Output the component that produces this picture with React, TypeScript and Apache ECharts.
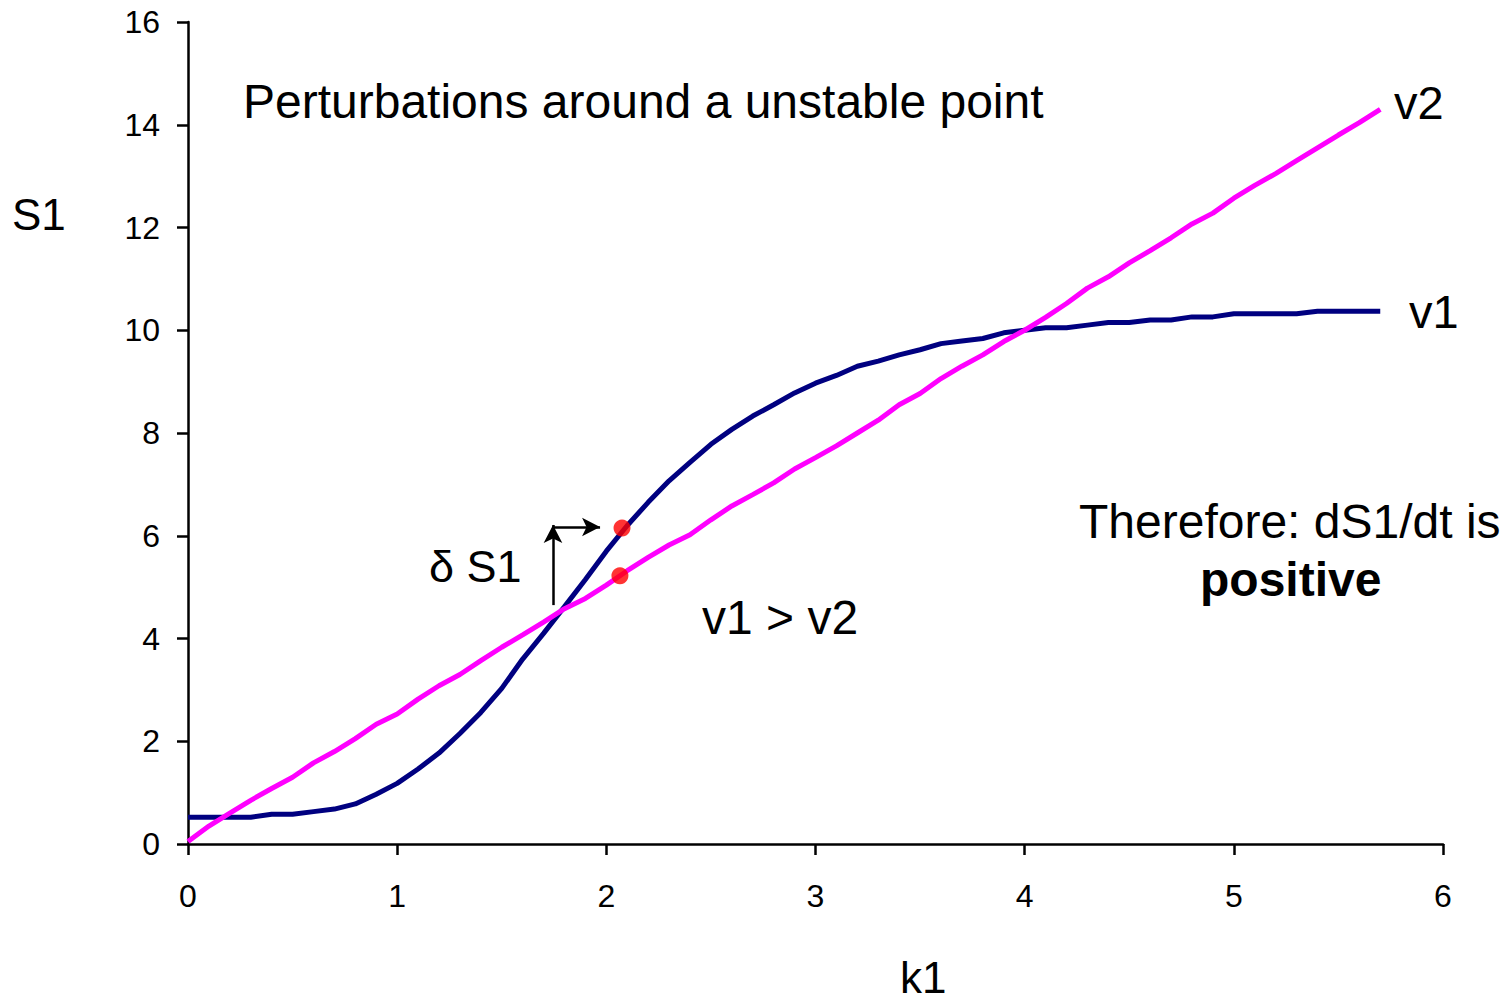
import React, { useEffect, useRef } from "react";
import * as echarts from "echarts";

const kValues = [
  0, 0.1, 0.2, 0.3, 0.4, 0.5, 0.6, 0.7, 0.8, 0.9, 1.0, 1.1, 1.2, 1.3, 1.4, 1.5, 1.6, 1.7, 1.8, 1.9,
  2.0, 2.1, 2.2, 2.3, 2.4, 2.5, 2.6, 2.7, 2.8, 2.9, 3.0, 3.1, 3.2, 3.3, 3.4, 3.5, 3.6, 3.7, 3.8, 3.9,
  4.0, 4.1, 4.2, 4.3, 4.4, 4.5, 4.6, 4.7, 4.8, 4.9, 5.0, 5.1, 5.2, 5.3, 5.4, 5.5, 5.6, 5.7,
];

const v1Values = [
  0.52, 0.52, 0.52, 0.52, 0.58, 0.58, 0.63, 0.68, 0.78, 0.97, 1.18, 1.46, 1.77, 2.15, 2.56, 3.03, 3.6, 4.1, 4.62, 5.15,
  5.7, 6.2, 6.65, 7.07, 7.43, 7.78, 8.07, 8.33, 8.55, 8.78, 8.97, 9.12, 9.3, 9.4, 9.52, 9.62, 9.74, 9.79, 9.84, 9.95,
  10.0, 10.05, 10.05, 10.1, 10.15, 10.15, 10.2, 10.2, 10.26, 10.26, 10.32, 10.32, 10.32, 10.32, 10.37, 10.37, 10.37, 10.37,
];

const v2Values = [
  0.05, 0.35, 0.6, 0.85, 1.08, 1.3, 1.58, 1.8, 2.05, 2.33, 2.53, 2.82, 3.08, 3.3, 3.57, 3.83, 4.07, 4.32, 4.58, 4.78,
  5.04, 5.32, 5.58, 5.82, 6.02, 6.31, 6.58, 6.8, 7.03, 7.3, 7.52, 7.75, 8.0, 8.25, 8.55, 8.77, 9.06, 9.3, 9.52, 9.78,
  10.0, 10.25, 10.52, 10.82, 11.04, 11.31, 11.55, 11.8, 12.07, 12.28, 12.57, 12.82, 13.05, 13.3, 13.55, 13.8, 14.04, 14.3,
];

const perturbedV1 = [[2.075, 6.15]];
const perturbedV2 = [[2.065, 5.22]];

const arrowUp = [[1.745, 4.65], [1.745, 6.21]];
const arrowRight = [[1.745, 6.17], [1.97, 6.17]];

const xTicks = { min: 0, max: 6, interval: 1 };
const yTicks = { min: 0, max: 16, interval: 2 };

const FONT = '"Liberation Sans", Arial, sans-serif';

export default function App() {
  const ref = useRef<HTMLDivElement>(null);

  useEffect(() => {
    document.body.style.margin = "0";
    const chart = echarts.init(ref.current!, null, { renderer: "svg" });

    chart.setOption({
      animation: false,
      backgroundColor: "#fff",
      textStyle: { fontFamily: FONT },
      grid: { left: 188, top: 22, width: 1255, height: 822, containLabel: false },
      xAxis: {
        type: "value",
        ...xTicks,
        axisLine: { show: true, lineStyle: { color: "#000", width: 2.5 } },
        axisTick: { show: true, inside: false, length: 11, lineStyle: { color: "#000", width: 2.5 } },
        axisLabel: { color: "#000", fontSize: 32, margin: 36, fontFamily: FONT },
        splitLine: { show: false },
      },
      yAxis: {
        type: "value",
        ...yTicks,
        axisLine: { show: true, onZero: false, lineStyle: { color: "#000", width: 2.5 } },
        axisTick: { show: true, inside: false, length: 11, lineStyle: { color: "#000", width: 2.5 } },
        axisLabel: { color: "#000", fontSize: 32, margin: 28, fontFamily: FONT },
        splitLine: { show: false },
      },
      series: [
        {
          name: "v1",
          type: "line",
          data: kValues.map((k, i) => [k, v1Values[i]]),
          showSymbol: false,
          lineStyle: { color: "#000080", width: 5 },
          itemStyle: { color: "#000080" },
          z: 2,
        },
        {
          name: "v2",
          type: "line",
          data: kValues.map((k, i) => [k, v2Values[i]]),
          showSymbol: false,
          lineStyle: { color: "#FF00FF", width: 5 },
          itemStyle: { color: "#FF00FF" },
          z: 3,
        },
        {
          name: "arrows",
          type: "line",
          data: [],
          markLine: {
            silent: true,
            symbol: ["none", "arrow"],
            symbolSize: [14, 18],
            label: { show: false },
            lineStyle: { color: "#000", width: 2.5, type: "solid" },
            data: [
              [{ coord: arrowUp[0] }, { coord: arrowUp[1] }],
              [{ coord: arrowRight[0] }, { coord: arrowRight[1] }],
            ],
          },
          z: 4,
        },
        {
          name: "p1",
          type: "scatter",
          data: perturbedV1,
          symbolSize: 17,
          itemStyle: { color: "#FF0000" },
          z: 5,
        },
        {
          name: "p2",
          type: "scatter",
          data: perturbedV2,
          symbolSize: 17,
          itemStyle: { color: "#FF0000" },
          z: 5,
        },
      ],
      graphic: [
        {
          type: "text",
          left: 243,
          top: 77,
          style: { text: "Perturbations around a unstable point", font: `normal 48px ${FONT}`, fill: "#000" },
        },
        {
          type: "text",
          left: 12,
          top: 192,
          style: { text: "S1", font: `normal 44px ${FONT}`, fill: "#000" },
        },
        {
          type: "text",
          left: 900,
          top: 955,
          style: { text: "k1", font: `normal 44px ${FONT}`, fill: "#000" },
        },
        {
          type: "text",
          left: 1394,
          top: 79,
          style: { text: "v2", font: `normal 47px ${FONT}`, fill: "#000" },
        },
        {
          type: "text",
          left: 1409,
          top: 288,
          style: { text: "v1", font: `normal 47px ${FONT}`, fill: "#000" },
        },
        {
          type: "text",
          left: 1079,
          top: 497,
          style: { text: "Therefore: dS1/dt is", font: `normal 48px ${FONT}`, fill: "#000" },
        },
        {
          type: "text",
          left: 1200,
          top: 555,
          style: { text: "positive", font: `bold 48px ${FONT}`, fill: "#000" },
        },
        {
          type: "text",
          left: 702,
          top: 593,
          style: { text: "v1 > v2", font: `normal 48px ${FONT}`, fill: "#000" },
        },
        {
          type: "text",
          left: 429,
          top: 544,
          style: { text: "δ S1", font: `normal 45px ${FONT}`, fill: "#000" },
        },
      ],
    });

    return () => chart.dispose();
  }, []);

  return <div ref={ref} style={{ position: "absolute", left: 0, top: 0, width: 1506, height: 1002 }} />;
}
